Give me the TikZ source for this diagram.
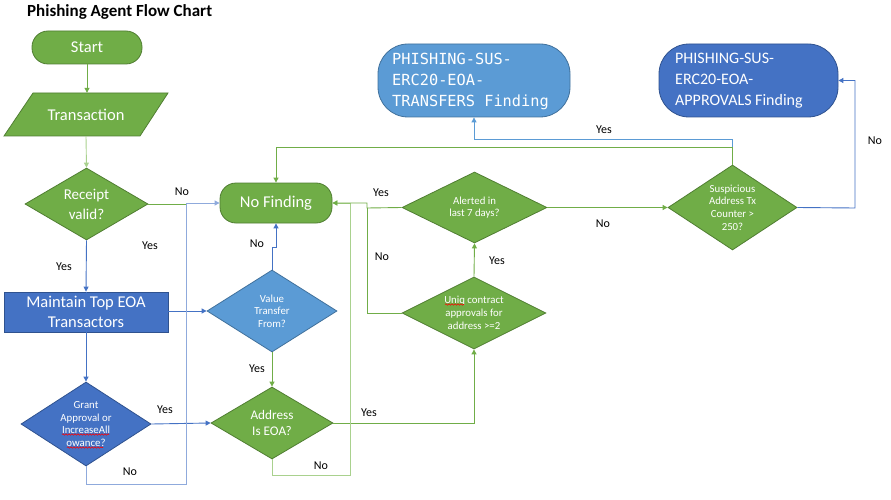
\documentclass[tikz,border=0pt]{standalone}
\usepackage{fontspec}
\setmainfont{Carlito}
\newfontfamily\monof{DejaVu Sans Mono}
\usetikzlibrary{shapes.geometric,arrows.meta,decorations.pathmorphing}
\definecolor{gfill}{HTML}{70AD47}
\definecolor{gline}{HTML}{507E32}
\definecolor{bfill}{HTML}{4472C4}
\definecolor{bline}{HTML}{2F528F}
\definecolor{lbfill}{HTML}{5B9BD5}
\definecolor{lbline}{HTML}{41719C}
\definecolor{lgreen}{HTML}{A9D18E}
\definecolor{lblue}{HTML}{8FAADC}
\begin{document}
\begin{tikzpicture}[x=1pt,y=-1pt,
  term/.style={draw=gline, fill=gfill, rounded corners=16pt, text=white, line width=0.8pt, font=\fontsize{16.5}{20}\selectfont},
  dia/.style={diamond, draw=gline, fill=gfill, inner sep=0pt, line width=0.8pt},
  bdia/.style={diamond, draw=bline, fill=bfill, inner sep=0pt, line width=0.8pt},
  lbdia/.style={diamond, draw=lbline, fill=lbfill, inner sep=0pt, line width=0.8pt},
  dtxt/.style={text=white, align=center, inner sep=0pt},
  big/.style={font=\fontsize{15}{20}\selectfont},
  mid/.style={font=\fontsize{13.2}{16}\selectfont},
  small/.style={font=\fontsize{10.8}{12.7}\selectfont},
  lbl/.style={font=\fontsize{12}{14}\selectfont, text=black, inner sep=0pt},
  arr/.style={-{Triangle[length=5pt,width=5pt]}, line width=0.9pt},
  con/.style={line width=0.9pt},
  gc/.style={draw=gfill},
  lgc/.style={draw=lgreen},
  bc/.style={draw=bfill},
  lbc/.style={draw=lbfill},
  squig/.style={draw=red, line width=0.6pt, decorate, decoration={snake, amplitude=0.7pt, segment length=3pt}}
]
\useasboundingbox (0,0) rectangle (891,500);

% title
\node[anchor=west, inner sep=0pt, font=\fontsize{17}{20}\bfseries\selectfont] (title) at (27,12) {Phishing Agent Flow Chart};

% nodes
\node[term, minimum width=110pt, minimum height=33pt] (start) at (87,47.5) {Start};
\draw[draw=gline, fill=gfill, line width=0.8pt] (33,93) -- (168,93) -- (140,136) -- (4,136) -- cycle;
\node[text=white, minimum width=136pt, minimum height=43pt, inner sep=0pt, font=\fontsize{16.5}{20}\selectfont] (tx) at (86,114.5) {Transaction};

\node[dia, minimum width=123pt, minimum height=72pt] (rv) at (86.5,204) {};
\node[dtxt, big] (rvt) at (rv) {Receipt\\valid?};

\node[draw=bline, fill=bfill, minimum width=164pt, minimum height=40pt, inner sep=0pt, line width=0.8pt, text=white, align=center, font=\fontsize{16.5}{20}\selectfont] (mt) at (86,312) {Maintain Top EOA\\Transactors};

\node[bdia, minimum width=130pt, minimum height=84pt] (gr) at (86,424) {};
\node[dtxt, small] (grt) at (86,424) {Grant\\Approval or\\IncreaseAll\\owance?};

\node[term, minimum width=112pt, minimum height=40pt] (nf) at (276,203) {No Finding};

\node[lbdia, minimum width=130pt, minimum height=82pt] (vt) at (272,311) {};
\node[dtxt, small] (vtt) at (272,311) {Value\\Transfer\\From?};

\node[dia, minimum width=122pt, minimum height=72pt] (ad) at (272,423) {};
\node[dtxt, mid] (adt) at (272,423) {Address\\Is EOA?};

\node[dia, minimum width=145pt, minimum height=71pt] (al) at (474.5,207.5) {};
\node[dtxt, small] (alt) at (474.5,207.5) {Alerted in\\last 7 days?};

\node[dia, minimum width=144pt, minimum height=72pt] (un) at (474,313) {};
\node[dtxt, small] (unt) at (474,313) {Uniq contract\\approvals for\\address >=2};

\node[dia, minimum width=129pt, minimum height=85pt] (su) at (732.5,207.5) {};
\node[dtxt, small] (sut) at (732.5,207.5) {Suspicious\\Address Tx\\Counter >\\250?};

\node[draw=lbline, fill=lbfill, rounded corners=30pt, minimum width=192pt, minimum height=73pt, line width=0.8pt] (ft) at (474,80.5) {};
\node[anchor=west, align=left, text=white, inner sep=0pt, font=\monof\fontsize{15.3}{21}\selectfont] (ftt) at (392,81) {PHISHING-SUS-\\ERC20-EOA-\\TRANSFERS Finding};

\node[draw=bline, fill=bfill, rounded corners=30pt, minimum width=179pt, minimum height=73pt, line width=0.8pt] (fa) at (748.5,80.5) {};
\node[anchor=west, align=left, text=white, inner sep=0pt, font=\fontsize{16}{21}\selectfont] (fat) at (675,81) {PHISHING-SUS-\\ERC20-EOA-\\APPROVALS Finding};

% spelling squiggles
\draw[squig] (62,434.5) -- (109,434.5);
\draw[squig] (67,447.5) -- (103,447.5);
\draw[squig] (445,304.5) -- (464,304.5);

% coordinates
\coordinate (gn) at (186,484);
\coordinate (an) at (350,475);
\coordinate (ux) at (367,208);
\coordinate (sn) at (855,208);

% connectors
\draw[arr, gc] (start.south) -- (start.south |- tx.north);
\draw[arr, lgc] (tx.south) -- (rv.north);
\draw[con, gc] (rv.east) -- (gn |- rv.east);
\draw[arr, bc] (rv.south) -- (mt.north);
\draw[arr, bc] (mt.north) |- (vt.west);
\draw[arr, bc] (mt.south) -- (gr.north);
\draw[arr, bc] (gr.east) -- (ad.west);
\draw[arr, lblue] (gr.south) |- (gn) |- (nf.west);
\draw[arr, bc] (vt.north) -- ++(0,-22) -| (nf.south);
\draw[arr, gc] (vt.south) -- (ad.north);
\draw[arr, gc] (ad.east) -| (un.south);
\draw[arr, lgc] (ad.south) |- (an) |- (nf.east);
\draw[arr, gc] (un.north) -- (al.south);
\draw[con, gc] (un.west) -| (ux);
\draw[arr, gc] (al.west) -- (ux) |- (nf.east);
\draw[arr, gc] (al.east) -- (su.west);
\draw[arr, lbc] (su.north) -- ++(0,-25) -| (ft.south);
\draw[arr, gc] (su.north) -- ++(0,-17) -| (nf.north);
\draw[arr, bc] (su.east) -- (sn) |- (fa.east);

% labels
\node[lbl] (l1) at (182,192) {No};
\node[lbl] (l2) at (150,246) {Yes};
\node[lbl] (l3) at (64,267) {Yes};
\node[lbl] (l4) at (165,410) {Yes};
\node[lbl] (l5) at (130,472) {No};
\node[lbl] (l6) at (257,244) {No};
\node[lbl] (l7) at (257,369) {Yes};
\node[lbl] (l8) at (369,413) {Yes};
\node[lbl] (l9) at (321,466) {No};
\node[lbl] (l10) at (497,261) {Yes};
\node[lbl] (l11) at (382,257) {No};
\node[lbl] (l12) at (381,193) {Yes};
\node[lbl] (l13) at (603,224) {No};
\node[lbl] (l14) at (604,130) {Yes};
\node[lbl] (l15) at (875,141) {No};
\end{tikzpicture}
\end{document}
